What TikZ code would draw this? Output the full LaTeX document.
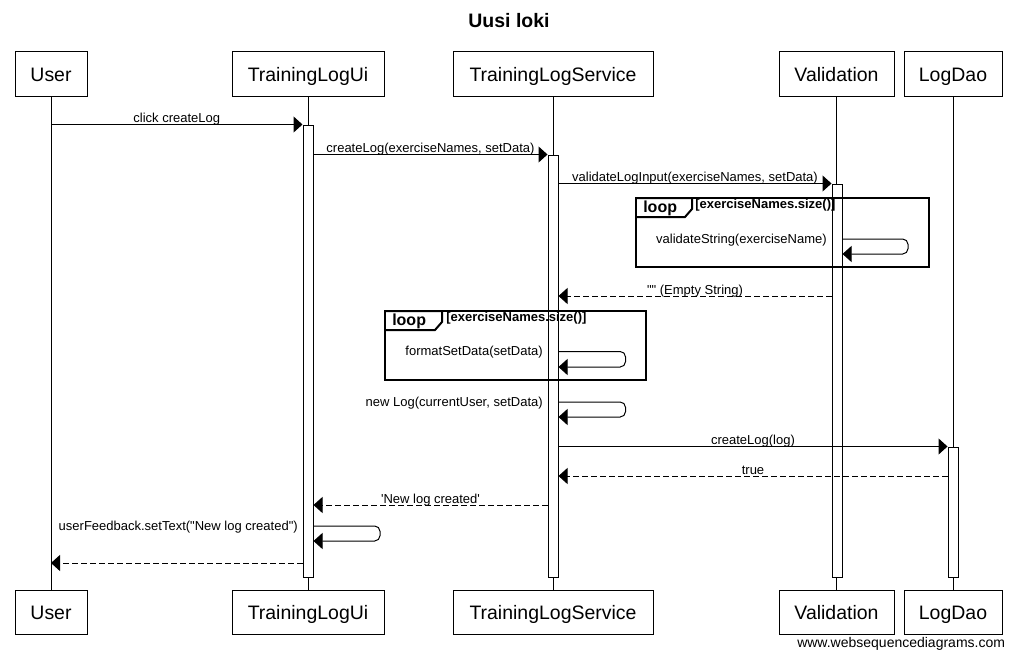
\documentclass[tikz,border=0pt]{standalone}
\usepackage{fontspec}
\newfontfamily\wsd{Liberation Sans}
\usetikzlibrary{arrows.meta}
\tikzset{
  part/.style={draw, line width=0.75pt, fill=white, minimum height=33.5pt, inner sep=0pt,
    text height=10.5pt, text depth=0pt,
    font=\wsd\fontsize{14.6}{16}\selectfont},
  act/.style={draw, line width=0.75pt, fill=white, minimum width=7.5pt, inner sep=0pt},
  life/.style={line width=0.75pt},
  msg/.style={line width=0.75pt, -{Triangle[length=6.75pt,width=12pt]}},
  ret/.style={msg, dash pattern=on 4.5pt off 2.25pt},
  lbl/.style={font=\wsd\fontsize{9.75}{11}\selectfont, inner sep=0pt, anchor=base, yshift=1.5pt},
  slbl/.style={font=\wsd\fontsize{9.75}{11}\selectfont, inner sep=0pt, anchor=base east},
  frame/.style={line width=1.5pt},
  looplbl/.style={font=\wsd\bfseries\fontsize{12}{14}\selectfont, inner sep=0pt, anchor=base west},
  guard/.style={font=\wsd\bfseries\fontsize{9.75}{11}\selectfont, inner sep=0pt, anchor=base west},
}
\begin{document}
\begin{tikzpicture}[x=0.75pt,y=-0.75pt]
\useasboundingbox (0,0) rectangle (1016,660);
\fill[white] (0,0) rectangle (1016,660);
% title
\node[font=\wsd\bfseries\fontsize{14.6}{16}\selectfont, inner sep=0pt, anchor=base] (title) at (509,27.5) {Uusi loki};
% participants
\node[part, minimum width=54pt]   (uT)   at (51,74) {User};
\node[part, minimum width=114pt]  (uiT)  at (308,74) {TrainingLogUi};
\node[part, minimum width=150pt]  (svT)  at (553,74) {TrainingLogService};
\node[part, minimum width=86.25pt] (vaT) at (836.5,74) {Validation};
\node[part, minimum width=73.5pt] (daoT) at (953,74) {LogDao};
\node[part, minimum width=54pt]   (uB)   at (51,612.5) {User};
\node[part, minimum width=114pt]  (uiB)  at (308,612.5) {TrainingLogUi};
\node[part, minimum width=150pt]  (svB)  at (553,612.5) {TrainingLogService};
\node[part, minimum width=86.25pt] (vaB) at (836.5,612.5) {Validation};
\node[part, minimum width=73.5pt] (daoB) at (953,612.5) {LogDao};
% lifelines
\draw[life] (uT.south) -- (uB.north);
\draw[life] (uiT.south) -- (uiB.north);
\draw[life] (svT.south) -- (svB.north);
\draw[life] (vaT.south) -- (vaB.north);
\draw[life] (daoT.south) -- (daoB.north);
% activations
\node[act, minimum height=339pt]   (uiA)  at (308,351) {};
\node[act, minimum height=316.5pt] (svA)  at (553,366) {};
\node[act, minimum height=294.75pt] (vaA) at (837,380.5) {};
\node[act, minimum height=97.5pt]  (daoA) at (953,512) {};
% loop frames
\draw[frame] (636,198) rectangle (929,267);
\draw[frame] (636,198) -- (692,198) -- (692,209) -- (685,217) -- (636,217);
\node[looplbl] (loop1) at (643,212) {loop};
\node[guard] (guard1) at (695,208.5) {[exerciseNames.size()]};
\draw[frame] (385,311) rectangle (646,380);
\draw[frame] (385,311) -- (442,311) -- (442,322) -- (435,330) -- (385,330);
\node[looplbl] (loop2) at (392,325.5) {loop};
\node[guard] (guard2) at (446,321.5) {[exerciseNames.size()]};
% messages
\draw[msg] (uT |- uiA.north) -- (uiA.north west) node[lbl, midway] {click createLog};
\draw[msg] (uiA.east |- svA.north) -- (svA.north west) node[lbl, midway] {createLog(exerciseNames, setData)};
\draw[msg] (svA.east |- vaA.north) -- (vaA.north west) node[lbl, midway] {validateLogInput(exerciseNames, setData)};
\draw[msg, rounded corners=4pt] (vaA.east |- 0,239) -- (908,239) -- (908,254) -- (vaA.east |- 0,254);
\node[slbl] (l4) at (827,243) {validateString(exerciseName)};
\draw[ret] (vaA.west |- 0,296) -- (svA.east |- 0,296) node[lbl, midway] {"" (Empty String)};
\draw[msg, rounded corners=4pt] (svA.east |- 0,351.5) -- (625.5,351.5) -- (625.5,367) -- (svA.east |- 0,367);
\node[slbl] (l6) at (543,355.5) {formatSetData(setData)};
\draw[msg, rounded corners=4pt] (svA.east |- 0,402) -- (625.5,402) -- (625.5,417) -- (svA.east |- 0,417);
\node[slbl] (l7) at (543,406) {new Log(currentUser, setData)};
\draw[msg] (svA.east |- daoA.north) -- (daoA.north west) node[lbl, midway] {createLog(log)};
\draw[ret] (daoA.west |- 0,476) -- (svA.east |- 0,476) node[lbl, midway] {true};
\draw[ret] (svA.west |- 0,505) -- (uiA.east |- 0,505) node[lbl, midway] {'New log created'};
\draw[msg, rounded corners=4pt] (uiA.east |- 0,526) -- (380,526) -- (380,541) -- (uiA.east |- 0,541);
\node[slbl] (l11) at (298,530) {userFeedback.setText("New log created")};
\draw[ret] (uiA.west |- 0,563) -- (uT |- 0,563);
% footer
\node[font=\wsd\fontsize{10.5}{12}\selectfont, inner sep=0pt, anchor=base west] (footer) at (797,647.5) {www.websequencediagrams.com};
\end{tikzpicture}
\end{document}
